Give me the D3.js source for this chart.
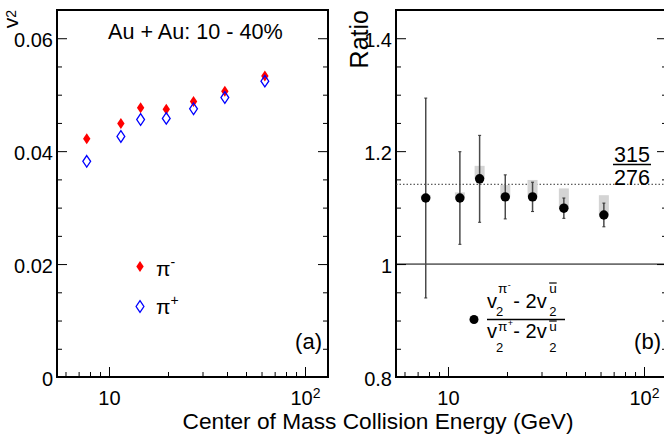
<!DOCTYPE html>
<html>
<head>
<meta charset="utf-8">
<script src="https://cdn.jsdelivr.net/npm/d3@7"></script>
<style>
  body { margin: 0; background: #fff; }
  svg { display: block; font-family: "Liberation Sans", Arial, Helvetica, sans-serif; }
</style>
</head>
<body>
<svg id="chart" width="664" height="437"></svg>
<script>
// collision energies (GeV)
var energies = [7.7, 11.5, 14.5, 19.6, 27, 39, 62.4];
// v2 of pions, Au+Au 10-40%
var v2PiMinus = [0.0422, 0.0449, 0.0477, 0.0474, 0.0488, 0.0506, 0.0533];
var v2PiPlus = [0.0382, 0.0426, 0.0456, 0.0458, 0.0475, 0.0495, 0.0524];
// (v2(pi-) - 2 v2(ubar)) / (v2(pi+) - 2 v2(ubar))
var ratio = [1.117, 1.117, 1.151, 1.119, 1.119, 1.099, 1.087];
var ratioStat = [0.177, 0.082, 0.077, 0.039, 0.026, 0.018, 0.021];
var ratioSys = [0.005, 0.01, 0.023, 0.021, 0.03, 0.035, 0.035];
var refRatio = 315 / 276;

var leftYTicks = [0, 0.02, 0.04, 0.06];
var rightYTicks = [0.8, 1, 1.2, 1.4];
var xMajorTicks = [10, 100];
var xMinorTicks = [6, 7, 8, 9, 20, 30, 40, 50, 60, 70, 80, 90];

var svg = d3.select("#chart");
var top_y = 10, bottom_y = 377, panel_w = 271;

var yLeft = d3.scaleLinear().domain([0, 0.065]).range([bottom_y, top_y]);
var yRight = d3.scaleLinear().domain([0.8, 1.45]).range([bottom_y, top_y]);
var xLeft = d3.scaleLog().domain([5.43, 131]).range([57, 57 + panel_w]);
var xRight = d3.scaleLog().domain([5.43, 131]).range([396, 396 + panel_w]);

function styleAxis(sel) {
    sel.select(".domain").remove();
    sel.selectAll(".tick line").attr("stroke", "black").attr("stroke-width", 1);
    sel.selectAll(".tick text").attr("fill", "black").attr("font-size", 20)
        .attr("font-family", "Liberation Sans, Arial, sans-serif");
}

function drawAxes(x, y, yMajor, yMinor, fmt) {
    var x0 = x.range()[0], x1 = x.range()[1];
    var g = svg.append("g");

    g.append("g").attr("transform", "translate(" + x0 + ",0)")
        .call(d3.axisLeft(y).tickValues(yMajor).tickSize(-10).tickPadding(4).tickFormat(fmt))
        .call(styleAxis)
        .selectAll(".tick text").attr("dy", "0.4em");
    g.append("g").attr("transform", "translate(" + x0 + ",0)")
        .call(d3.axisLeft(y).tickValues(yMinor).tickSize(-5).tickFormat(""))
        .call(styleAxis);
    g.append("g").attr("transform", "translate(" + x1 + ",0)")
        .call(d3.axisRight(y).tickValues(yMajor).tickSize(-10).tickFormat(""))
        .call(styleAxis);
    g.append("g").attr("transform", "translate(" + x1 + ",0)")
        .call(d3.axisRight(y).tickValues(yMinor).tickSize(-5).tickFormat(""))
        .call(styleAxis);

    var xa = g.append("g").attr("transform", "translate(0," + bottom_y + ")")
        .call(d3.axisBottom(x).tickValues(xMajorTicks).tickSize(-10).tickPadding(14).tickFormat(function () { return "10"; }))
        .call(styleAxis);
    xa.selectAll(".tick text")
        .filter(function (d) { return d === 100; })
        .append("tspan")
        .attr("font-size", 14)
        .attr("dy", "-0.55em")
        .text("2");
    g.append("g").attr("transform", "translate(0," + bottom_y + ")")
        .call(d3.axisBottom(x).tickValues(xMinorTicks).tickSize(-5).tickFormat(""))
        .call(styleAxis);

    g.append("rect")
        .attr("x", x0).attr("y", top_y)
        .attr("width", x1 - x0).attr("height", bottom_y - top_y)
        .attr("fill", "none").attr("stroke", "black").attr("stroke-width", 2);
}

var leftMinor = d3.range(0, 14).filter(function (i) { return i % 4 !== 0; }).map(function (i) { return i * 0.005; });
var rightMinor = d3.range(0, 14).filter(function (i) { return i % 4 !== 0; }).map(function (i) { return 0.8 + i * 0.05; });

drawAxes(xLeft, yLeft, leftYTicks, leftMinor, function (d) { return d === 0 ? "0" : d.toFixed(2); });
drawAxes(xRight, yRight, rightYTicks, rightMinor, function (d) { return d === 1 ? "1" : d.toFixed(1); });

// ---- left panel: v2 points
var redDiamond = "M0,-5.5L3.7,0L0,5.5L-3.7,0Z";
var blueDiamond = "M0,-5.8L3.9,0L0,5.8L-3.9,0Z";

svg.append("g").selectAll("path")
    .data(energies)
    .enter()
    .append("path")
    .attr("d", redDiamond)
    .attr("fill", "#ff0000")
    .attr("transform", function (d, i) { return "translate(" + xLeft(d) + "," + yLeft(v2PiMinus[i]) + ")"; });

svg.append("g").selectAll("path")
    .data(energies)
    .enter()
    .append("path")
    .attr("d", blueDiamond)
    .attr("fill", "none")
    .attr("stroke", "#0000ff")
    .attr("stroke-width", 1.3)
    .attr("transform", function (d, i) { return "translate(" + xLeft(d) + "," + yLeft(v2PiPlus[i]) + ")"; });

svg.append("text").attr("x", 108).attr("y", 39).attr("font-size", 21.6).text("Au + Au: 10 - 40%");

// legend (a)
svg.append("path").attr("d", redDiamond).attr("fill", "#ff0000").attr("transform", "translate(140,266.5)");
svg.append("path").attr("d", blueDiamond).attr("fill", "none").attr("stroke", "#0000ff")
    .attr("stroke-width", 1.3).attr("transform", "translate(140,306.5)");
var pm = svg.append("text").attr("x", 156).attr("y", 276).attr("font-size", 21).text("π");
pm.append("tspan").attr("font-size", 14).attr("dy", -9).text("-");
var pp = svg.append("text").attr("x", 156).attr("y", 313.5).attr("font-size", 21).text("π");
pp.append("tspan").attr("font-size", 14).attr("dy", -9).text("+");

svg.append("text").attr("x", 322).attr("y", 349).attr("font-size", 22).attr("text-anchor", "end").text("(a)");

// ---- right panel: ratio
var xr0 = xRight.range()[0], xr1 = xRight.range()[1];
svg.append("line")
    .attr("x1", xr0).attr("x2", xr1)
    .attr("y1", yRight(1)).attr("y2", yRight(1))
    .attr("stroke", "black").attr("stroke-width", 1);
svg.append("line")
    .attr("x1", xr0).attr("x2", xr1)
    .attr("y1", yRight(refRatio)).attr("y2", yRight(refRatio))
    .attr("stroke", "#333").attr("stroke-width", 1)
    .attr("stroke-dasharray", "1.5,2");

var pts = svg.append("g").selectAll("g")
    .data(energies)
    .enter()
    .append("g");

pts.append("rect")
    .attr("x", function (d) { return xRight(d) - 5; })
    .attr("width", 10)
    .attr("y", function (d, i) { return yRight(ratio[i] + ratioSys[i]); })
    .attr("height", function (d, i) { return yRight(ratio[i]) - yRight(ratio[i] + ratioSys[i]); })
    .attr("fill", "#d4d4d4");

pts.append("line")
    .attr("x1", function (d) { return xRight(d); })
    .attr("x2", function (d) { return xRight(d); })
    .attr("y1", function (d, i) { return yRight(ratio[i] + ratioStat[i]); })
    .attr("y2", function (d, i) { return yRight(ratio[i] - ratioStat[i]); })
    .attr("stroke", "#4a4a4a").attr("stroke-width", 1.5);

[1, -1].forEach(function (s) {
    pts.append("line")
        .attr("x1", function (d) { return xRight(d) - 1.5; })
        .attr("x2", function (d) { return xRight(d) + 1.5; })
        .attr("y1", function (d, i) { return yRight(ratio[i] + s * ratioStat[i]); })
        .attr("y2", function (d, i) { return yRight(ratio[i] + s * ratioStat[i]); })
        .attr("stroke", "#333").attr("stroke-width", 1);
});

pts.append("circle")
    .attr("cx", function (d) { return xRight(d); })
    .attr("cy", function (d, i) { return yRight(ratio[i]); })
    .attr("r", 4.7)
    .attr("fill", "black");

// 315/276 label
svg.append("text").attr("x", 632).attr("y", 161.5).attr("font-size", 21.5).attr("text-anchor", "middle").text("315");
svg.append("line").attr("x1", 613).attr("x2", 651).attr("y1", 164.5).attr("y2", 164.5)
    .attr("stroke", "black").attr("stroke-width", 1.5);
svg.append("text").attr("x", 632).attr("y", 184.5).attr("font-size", 21.5).attr("text-anchor", "middle").text("276");

svg.append("text").attr("x", 661).attr("y", 349).attr("font-size", 22).attr("text-anchor", "end").text("(b)");

// legend (b): fraction
function addText(g, x, y, str, size) {
    var t = g.append("text").attr("x", x).attr("y", y).attr("font-size", size).text(str);
    return x + t.node().getComputedTextLength();
}
function fracTerm(g, x, base, sign, supDy, subDy) {
    var xa = addText(g, x, base, "v", 20);
    var xs = addText(g, xa + 1, base + supDy, "π", 13.5);
    addText(g, xs + 0.5, base + supDy - 5, sign, 9);
    addText(g, xa - 1, base + subDy, "2", 13);
    var xb = addText(g, xs + 6, base, "- 2v", 20);
    var xu = addText(g, xb + 2.5, base + supDy, "u", 13.5);
    g.append("line").attr("x1", xb + 2.5).attr("x2", xu)
        .attr("y1", base + supDy - 10).attr("y2", base + supDy - 10)
        .attr("stroke", "black").attr("stroke-width", 1.2);
    addText(g, xb + 2.5, base + subDy, "2", 13);
}
var leg = svg.append("g");
leg.append("circle").attr("cx", 474).attr("cy", 319.5).attr("r", 4.5).attr("fill", "black");
fracTerm(leg, 487, 308, "-", -15, 8);
leg.append("line").attr("x1", 487).attr("x2", 565).attr("y1", 319.5).attr("y2", 319.5)
    .attr("stroke", "black").attr("stroke-width", 1.3);
fracTerm(leg, 487, 338, "+", -7, 14);

// axis titles
var v2lab = svg.append("text")
    .attr("transform", "translate(18,10) rotate(-90)")
    .attr("text-anchor", "end")
    .attr("font-size", 21)
    .text("v");
v2lab.append("tspan").attr("font-size", 14).attr("dy", -2).text("2");

svg.append("text")
    .attr("transform", "translate(368,10) rotate(-90)")
    .attr("text-anchor", "end")
    .attr("font-size", 25)
    .text("Ratio");

svg.append("text")
    .attr("x", 378).attr("y", 428.5)
    .attr("text-anchor", "middle")
    .attr("font-size", 22.7)
    .text("Center of Mass Collision Energy (GeV)");
</script>
</body>
</html>
